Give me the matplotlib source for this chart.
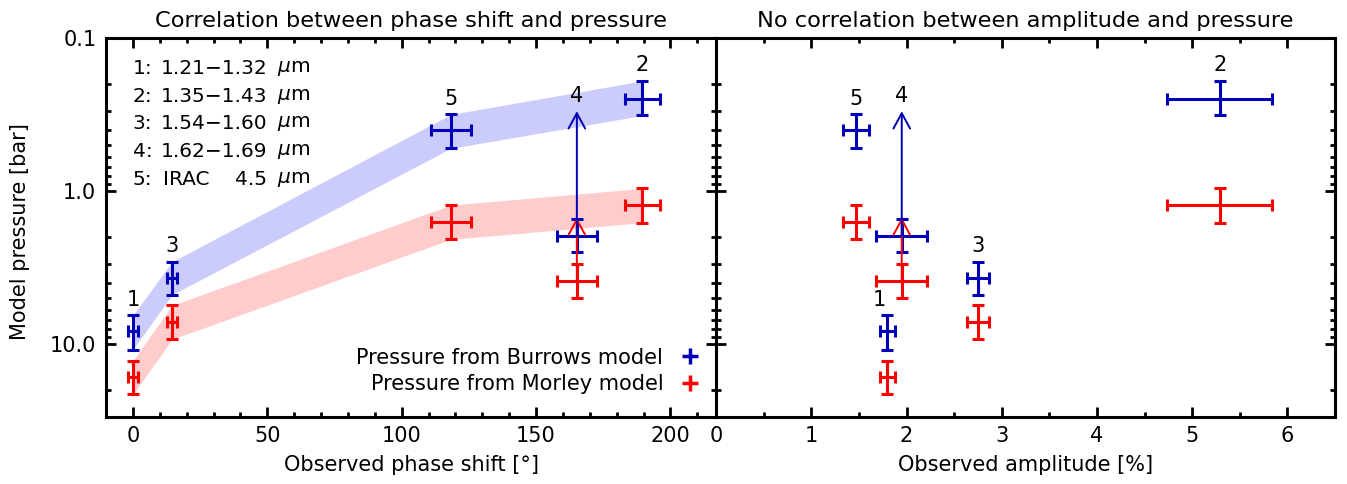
import numpy as np
import matplotlib.pyplot as plt
from matplotlib.lines import Line2D
from matplotlib.ticker import FixedLocator, LogLocator, NullFormatter, MultipleLocator

# channel data (order: 1..5)
channels = ["1", "2", "3", "4", "5"]
band_names = ["1.21\u22121.32", "1.35\u22121.43", "1.54\u22121.60", "1.62\u22121.69", "4.5"]
phase = [0.0, 189.6, 14.6, 165.2, 118.3]
phase_err = [2.0, 6.4, 2.0, 7.4, 7.5]
amp = [1.80, 5.29, 2.75, 1.95, 1.47]
amp_err = [0.08, 0.55, 0.115, 0.27, 0.14]

p_burrows = [8.3, 0.248, 3.7, 1.97, 0.40]
p_burrows_lo = [6.5, 0.19, 2.9, 1.53, 0.315]
p_burrows_hi = [10.9, 0.32, 4.77, 2.5, 0.525]
p_morley = [16.4, 1.23, 7.24, 3.86, 1.585]
p_morley_lo = [12.9, 0.96, 5.6, 2.99, 1.235]
p_morley_hi = [21.4, 1.61, 9.34, 5.0, 2.07]

# channel 4 is only a lower limit on pressure (arrow up)
is_limit = [False, False, False, True, False]
limit_burrows = 0.30
limit_morley = 1.49

blue = "#0000b8"
red = "#ff0000"

plt.rcParams["font.family"] = "DejaVu Sans"
plt.rcParams["font.size"] = 15

fig = plt.figure(figsize=(13.47, 4.84), dpi=100)
ax1 = fig.add_axes([0.0787, 0.139, 0.4529, 0.7818])
ax2 = fig.add_axes([0.5316, 0.139, 0.4595, 0.7818])


def errs(p, lo, hi):
    p = np.array(p)
    return [p - np.array(lo), np.array(hi) - p]


def draw_points(ax, x, xerr):
    x = np.array(x)
    for p, lo, hi, col, lim in [(p_morley, p_morley_lo, p_morley_hi, red, limit_morley),
                                (p_burrows, p_burrows_lo, p_burrows_hi, blue, limit_burrows)]:
        ax.errorbar(x, p, xerr=xerr, yerr=errs(p, lo, hi), fmt="none", ecolor=col,
                    elinewidth=2.2, capsize=4.2, capthick=2.2, zorder=3)
        for i in range(len(x)):
            if is_limit[i]:
                ax.annotate("", xy=(x[i], lim), xytext=(x[i], p[i]),
                            arrowprops=dict(arrowstyle="->,head_length=1.1,head_width=0.6",
                                            color=col, lw=1.4, shrinkA=0, shrinkB=0,
                                            mutation_scale=10), zorder=4)


def label_points(ax, x, dx1=0):
    for i in range(len(x)):
        top = limit_burrows if is_limit[i] else p_burrows_lo[i]
        dx = dx1 if channels[i] == "1" else 0
        ax.annotate(channels[i], (x[i], top), xytext=(dx, 4), textcoords="offset points",
                    ha="center", va="bottom")


def style_axis(ax):
    ax.set_yscale("log")
    ax.set_ylim(30, 0.1)
    ax.yaxis.set_major_locator(FixedLocator([0.1, 1.0, 10.0]))
    ax.yaxis.set_minor_locator(LogLocator(subs=np.arange(2, 10)))
    ax.yaxis.set_minor_formatter(NullFormatter())
    ax.tick_params(which="both", direction="in", top=True, right=True, width=2)
    ax.tick_params(which="major", length=7, pad=7)
    ax.tick_params(which="minor", length=3.5)
    for s in ax.spines.values():
        s.set_linewidth(2.2)


# left panel: phase shift
style_axis(ax1)
ax1.set_yticklabels(["0.1", "1.0", "10.0"])
ax1.set_xlim(-10, 217)
ax1.xaxis.set_major_locator(MultipleLocator(50))
ax1.xaxis.set_minor_locator(MultipleLocator(10))

order = [i for i in np.argsort(phase) if not is_limit[i]]
xb = np.array(phase)[order]
ax1.fill_between(xb, np.array(p_burrows_lo)[order], np.array(p_burrows_hi)[order],
                 color="#ccccfc", lw=0, zorder=1)
ax1.fill_between(xb, np.array(p_morley_lo)[order], np.array(p_morley_hi)[order],
                 color="#ffcccc", lw=0, zorder=1)
draw_points(ax1, phase, phase_err)
label_points(ax1, phase)

ax1.set_title("Correlation between phase shift and pressure", pad=8, fontsize=16.2)
ax1.set_xlabel("Observed phase shift [\u00b0]", labelpad=6)
ax1.set_ylabel("Model pressure [bar]")
ax1.yaxis.set_label_coords(-0.125, 0.49)

ys = [0.921, 0.847, 0.774, 0.700, 0.628]
for i, name in enumerate(band_names):
    ax1.text(0.044, ys[i], channels[i] + ":", transform=ax1.transAxes, va="center", fontsize=14.5)
    ax1.text(0.264, ys[i], name, transform=ax1.transAxes, va="center", ha="right", fontsize=14.5)
    ax1.text(0.280, ys[i], r"$\mu$m", transform=ax1.transAxes, va="center", fontsize=14.5)
ax1.text(0.0934, ys[4], "IRAC", transform=ax1.transAxes, va="center", fontsize=14.5)

handles = [Line2D([], [], color=blue, marker="+", ls="none", ms=11, mew=2.5),
           Line2D([], [], color=red, marker="+", ls="none", ms=11, mew=2.5)]
ax1.legend(handles, ["Pressure from Burrows model", "Pressure from Morley model"],
           loc="lower right", bbox_to_anchor=(0.975, 0.06), frameon=False,
           markerfirst=False, handlelength=1.0, handletextpad=0.8,
           labelspacing=0.3, borderpad=0, borderaxespad=0)

# right panel: amplitude
style_axis(ax2)
ax2.tick_params(labelleft=False)
ax2.set_xlim(0, 6.5)
ax2.xaxis.set_major_locator(MultipleLocator(1))
ax2.xaxis.set_minor_locator(MultipleLocator(0.5))
draw_points(ax2, amp, amp_err)
label_points(ax2, amp, dx1=-6)
ax2.set_title("No correlation between amplitude and pressure", pad=8, fontsize=16.2)
ax2.set_xlabel("Observed amplitude [%]", labelpad=6)

fig.savefig("out.png", dpi=100)
